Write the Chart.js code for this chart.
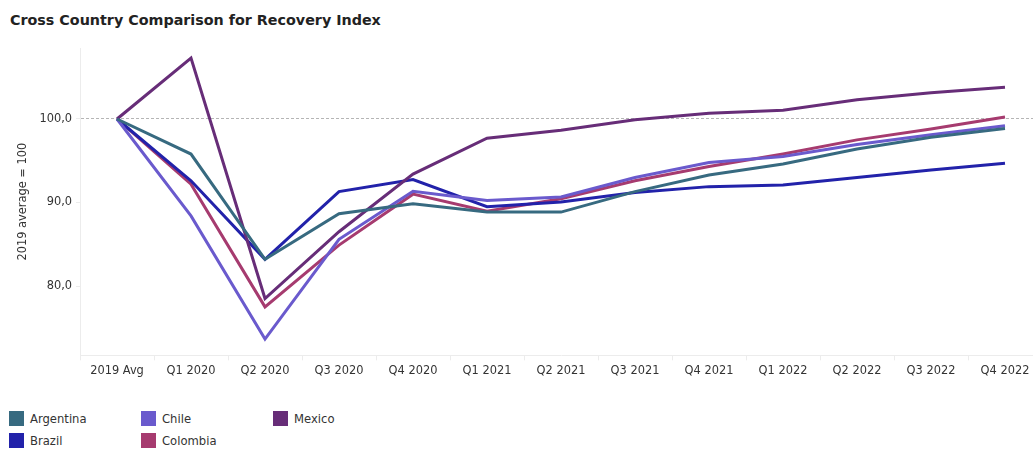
<!DOCTYPE html>
<html>
<head>
<meta charset="utf-8">
<script src="https://cdn.jsdelivr.net/npm/chart.js@4"></script>
<style>
  html, body { margin: 0; padding: 0; background: #fff; overflow: hidden; width: 1033px; height: 449px; }
  #title { position: absolute; left: 10px; top: 12px; font: bold 14.3px "DejaVu Sans", Verdana, sans-serif; color: #222; white-space: nowrap; }
  #wrap { position: absolute; left: 0; top: 0; width: 1042px; height: 395px; }
  #legend { position: absolute; left: 9px; top: 411px; display: grid; grid-template-rows: 22px 22px; grid-auto-flow: column; grid-auto-columns: 132px; font: 11.6px "DejaVu Sans", Verdana, sans-serif; color: #333; }
  .item { display: flex; align-items: center; height: 15px; }
  .sw { width: 15px; height: 15px; margin-right: 6px; flex: none; }
</style>
</head>
<body>
<div id="title">Cross Country Comparison for Recovery Index</div>
<div id="wrap"><canvas id="c"></canvas></div>
<div id="legend"></div>
<script>
const categories = ["2019 Avg","Q1 2020","Q2 2020","Q3 2020","Q4 2020","Q1 2021","Q2 2021","Q3 2021","Q4 2021","Q1 2022","Q2 2022","Q3 2022","Q4 2022"];
const argentina = [100, 95.8, 83.2, 88.65, 89.85, 88.85, 88.85, 91.3, 93.3, 94.6, 96.4, 97.8, 98.85];
const brazil    = [100, 92.6, 83.2, 91.3, 92.75, 89.5, 90.05, 91.2, 91.9, 92.1, 93.0, 93.9, 94.7];
const chile     = [100, 88.4, 73.65, 85.6, 91.35, 90.25, 90.65, 93.0, 94.8, 95.5, 96.95, 98.1, 99.2];
const colombia  = [100, 92.2, 77.5, 84.9, 91.0, 88.95, 90.45, 92.6, 94.3, 95.8, 97.5, 98.8, 100.25];
const mexico    = [100, 107.3, 78.5, 86.5, 93.4, 97.7, 98.65, 99.9, 100.7, 101.05, 102.3, 103.15, 103.8];
const yTicks = [80, 90, 100];
const referenceValue = 100;

const series = [
  { label: "Argentina", data: argentina, color: "#376a80" },
  { label: "Chile",     data: chile,     color: "#6a5acd" },
  { label: "Mexico",    data: mexico,    color: "#672d78" },
  { label: "Brazil",    data: brazil,    color: "#2222aa" },
  { label: "Colombia",  data: colombia,  color: "#a63b6f" }
];
// legend order (column-major): Argentina, Brazil | Chile, Colombia | Mexico
const legendOrder = ["Argentina", "Brazil", "Chile", "Colombia", "Mexico"];

const chart = new Chart(document.getElementById('c'), {
  type: 'line',
  data: {
    labels: categories,
    datasets: series.map(s => ({
      label: s.label, data: s.data, borderColor: s.color, backgroundColor: s.color,
      borderWidth: 3, pointRadius: 0, pointHoverRadius: 0, tension: 0, fill: false
    }))
  },
  options: {
    responsive: true, maintainAspectRatio: false, animation: false,
    layout: { padding: { left: 10, top: 48, right: 0, bottom: 13 } },
    plugins: { legend: { display: false }, tooltip: { enabled: false } },
    scales: {
      x: {
        offset: true,
        grid: { display: true, drawOnChartArea: false, offset: true, tickLength: 5, tickColor: '#ececec' },
        border: { color: '#ececec' },
        ticks: { color: '#333', font: { family: 'DejaVu Sans', size: 11.4 }, padding: 4, maxRotation: 0, autoSkip: false }
      },
      y: {
        min: 71.7, max: 108.5,
        afterBuildTicks: (scale) => { scale.ticks = yTicks.map(v => ({ value: v })); },
        afterFit: (scale) => { scale.width = 70; },
        grid: {
          drawOnChartArea: true, tickLength: 4,
          color: (ctx) => (ctx.tick && ctx.tick.value === referenceValue) ? '#b5b5b5' : 'rgba(0,0,0,0)',
          tickColor: '#ececec'
        },
        border: { color: '#ececec', dash: [3, 2] },
        ticks: {
          color: '#333', font: { family: 'DejaVu Sans', size: 11.4 }, padding: 4,
          callback: (v) => Number(v).toFixed(1).replace('.', ',')
        },
        title: { display: true, text: '2019 average = 100', color: '#333', font: { family: 'DejaVu Sans', size: 11.4 }, padding: { top: 6, bottom: 0 } }
      }
    }
  }
});

const legend = document.getElementById('legend');
legendOrder.forEach(name => {
  const ds = chart.data.datasets.find(d => d.label === name);
  const item = document.createElement('div'); item.className = 'item';
  const sw = document.createElement('span'); sw.className = 'sw'; sw.style.background = ds.borderColor;
  const tx = document.createElement('span'); tx.textContent = ds.label;
  item.appendChild(sw); item.appendChild(tx); legend.appendChild(item);
});
</script>
</body>
</html>
